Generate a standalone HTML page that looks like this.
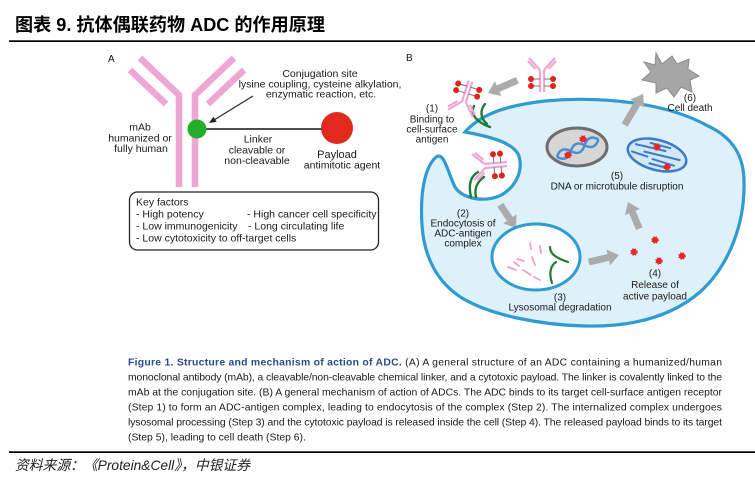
<!DOCTYPE html>
<html><head><meta charset="utf-8"><style>
html,body{margin:0;padding:0;background:#fff}
body{width:755px;height:488px;overflow:hidden;position:relative}
svg{position:absolute;left:0;top:0}
text{font-family:"Liberation Sans","Noto Sans CJK SC",sans-serif}
</style></head><body>
<svg width="755" height="488" viewBox="0 0 755 488" xmlns="http://www.w3.org/2000/svg">
<rect width="755" height="488" fill="#fff"/>
<!-- title -->
<text x="15" y="31" font-size="18" font-weight="bold" fill="#000" textLength="310" lengthAdjust="spacingAndGlyphs">图表 9. 抗体偶联药物 ADC 的作用原理</text>
<rect x="9" y="40.3" width="746" height="1.7" fill="#000"/>

<!-- ===== Panel A ===== -->
<text x="108" y="62" font-size="10" fill="#111">A</text>
<g stroke="#efa6d2" stroke-width="6.5" fill="none">
<polyline points="140,58 179,95 179,187"/>
<polyline points="234,58 195,95 195,187"/>
<line x1="130" y1="70" x2="166" y2="104"/>
<line x1="244" y1="70" x2="208" y2="104"/>
</g>
<line x1="205" y1="129" x2="323" y2="129" stroke="#111" stroke-width="1.5"/>
<circle cx="197" cy="129" r="9.5" fill="#22ad2a"/>
<circle cx="337" cy="128" r="16" fill="#e12a1c"/>
<line x1="253" y1="96" x2="214" y2="120" stroke="#222" stroke-width="1.1"/>
<polygon points="209,123 216.6,121.9 213.4,116.7" fill="#222"/>

<g font-size="10.5" fill="#1a1a1a" text-anchor="middle">
<text x="320" y="77">Conjugation site</text>
<text x="320" y="87.5">lysine coupling, cysteine alkylation,</text>
<text x="321" y="97.5">enzymatic reaction, etc.</text>
<text x="140" y="130.5">mAb</text>
<text x="140" y="141.5">humanized or</text>
<text x="141" y="152">fully human</text>
<text x="258" y="142.5">Linker</text>
<text x="257" y="153.5">cleavable or</text>
<text x="257" y="164">non-cleavable</text>
<text x="337" y="158" font-size="11">Payload</text>
<text x="342" y="168.5">antimitotic agent</text>
</g>
<rect x="129.5" y="192" width="249" height="58" rx="8" fill="none" stroke="#222" stroke-width="1.3"/>
<g font-size="10.5" fill="#1a1a1a">
<text x="136" y="205.5">Key factors</text>
<text x="136" y="217.5">- High potency</text>
<text x="247" y="217.5">- High cancer cell specificity</text>
<text x="136" y="229.5">- Low immunogenicity</text>
<text x="248" y="229.5">- Long circulating life</text>
<text x="136" y="241.5">- Low cytotoxicity to off-target cells</text>
</g>

<!-- ===== Panel B ===== -->
<text x="406" y="61" font-size="10" fill="#111">B</text>

<!-- cell -->
<path d="M436,157 C444,151 448,173 455,187 C463,200 488,203 503,194 C517,185 523,170 519,156 C514,143 492,137 465,132 C478,117 500,106 545,101 C600,96 665,102 708,126 C732,137 744,155 744,182 C745,222 730,265 700,292 C670,318 630,327 585,326 C540,325 490,315 462,298 C438,283 424,258 422,225 C420,195 424,168 436,157 Z" fill="#def0f9" stroke="#2e9bd2" stroke-width="3.2"/>

<!-- antigens -->
<g stroke="#1d7b34" stroke-width="2.4" fill="none" stroke-linecap="round">
<path d="M474,106 C470,114 476,122 490,127"/>
<path d="M485,104 C480,110 480,118 487,124"/>
<path d="M478,172 C471,176 468,184 471,197"/>
<path d="M484,177 C477,182 474,189 476,197"/>
</g>

<!-- ADCs -->
<g transform="translate(542,70) rotate(90)">
<g stroke="#efa6d2" stroke-width="2.2" fill="none">
<path d="M0,-2 L22,-2 M0,2 L22,2 M0,-2 L-12,-13 M0,2 L-12,13 M-1,-6.5 L-9,-14 M-1,6.5 L-9,14"/>
</g>
<g stroke="#777" stroke-width="1"><path d="M9,-2 L9,-11 M16,-2 L16,-11 M9,2 L9,11 M16,2 L16,11"/></g>
<g fill="#e2231c"><circle cx="9" cy="-11" r="3"/><circle cx="16" cy="-11" r="3"/><circle cx="9" cy="11" r="3"/><circle cx="16" cy="11" r="3"/></g>
</g>
<g transform="translate(464,102) rotate(-73)">
<g stroke="#efa6d2" stroke-width="2.2" fill="none">
<path d="M0,-2 L22,-2 M0,2 L22,2 M0,-2 L-12,-13 M0,2 L-12,13 M-1,-6.5 L-9,-14 M-1,6.5 L-9,14"/>
</g>
<g stroke="#777" stroke-width="1"><path d="M9,-2 L9,-11 M16,-2 L16,-11 M9,2 L9,11 M16,2 L16,11"/></g>
<g fill="#e2231c"><circle cx="9" cy="-11" r="3"/><circle cx="16" cy="-11" r="3"/><circle cx="9" cy="11" r="3"/><circle cx="16" cy="11" r="3"/></g>
</g>
<g transform="translate(485,166) rotate(-5)">
<g stroke="#efa6d2" stroke-width="2.2" fill="none">
<path d="M0,-2 L22,-2 M0,2 L22,2 M0,-2 L-12,-13 M0,2 L-12,13 M-1,-6.5 L-9,-14 M-1,6.5 L-9,14"/>
</g>
<g stroke="#777" stroke-width="1"><path d="M9,-2 L9,-11 M16,-2 L16,-11 M9,2 L9,11 M16,2 L16,11"/></g>
<g fill="#e2231c"><circle cx="9" cy="-11" r="3"/><circle cx="16" cy="-11" r="3"/><circle cx="9" cy="11" r="3"/><circle cx="16" cy="11" r="3"/></g>
</g>

<!-- gray arrows -->
<g fill="#ababab">
<polygon transform="translate(488,93) rotate(156.6)" points="0,0 -11,-8 -11,-3.5 -32,-3.5 -32,3.5 -11,3.5 -11,8"/>
<polygon transform="translate(516,228) rotate(55.8)" points="0,0 -11,-8 -11,-3.5 -28,-3.5 -28,3.5 -11,3.5 -11,8"/>
<polygon transform="translate(619,255) rotate(-13)" points="0,0 -11,-8 -11,-3.5 -31,-3.5 -31,3.5 -11,3.5 -11,8"/>
<polygon transform="translate(628,202) rotate(-113)" points="0,0 -11,-8 -11,-3.5 -29,-3.5 -29,3.5 -11,3.5 -11,8"/>
<polygon transform="translate(643,94) rotate(-59.3)" points="0,0 -11,-8 -11,-3.5 -36,-3.5 -36,3.5 -11,3.5 -11,8"/>
</g>

<!-- nucleus -->
<ellipse cx="577" cy="147" rx="30" ry="19" fill="#d6d6d6" stroke="#6e6e6e" stroke-width="3"/>
<g transform="translate(557,157) rotate(-23)" stroke="#4a8fd2" stroke-width="2.5" fill="none">
<path d="M0,0 C5,-6 10,-6 15,0 S25,6 30,0 S40,-6 45,0"/>
<path d="M0,0 C5,6 10,6 15,0 S25,-6 30,0 S40,6 45,0"/>
</g>
<g fill="#e8262a" stroke="#e8262a" stroke-width="1.6" stroke-dasharray="1.2 1.2">
<circle cx="583" cy="139" r="3"/><circle cx="568" cy="155" r="3"/>
</g>

<!-- microtubule -->
<g transform="translate(657,155) rotate(15)">
<ellipse cx="0" cy="0" rx="30" ry="15" fill="#d3e7f7" stroke="#3b7cc9" stroke-width="2.5"/>
<g stroke="#3b7cc9" stroke-width="2" fill="none">
<path d="M-24,-5 L8,-6 M-14,0 L24,-1 M-4,5 L20,6 M-26,3 L-8,4 M-10,-10 L12,-10 M-6,10 L14,10"/>
</g>
</g>
<g fill="#e8262a" stroke="#e8262a" stroke-width="1.6" stroke-dasharray="1.2 1.2">
<circle cx="657" cy="147" r="3"/><circle cx="667" cy="167" r="3"/>
</g>

<!-- cell death star -->
<polygon points="656,53 662,64 672,56 677,64 689,59 688,69 699,76 690,80 692,92 681,87 674,97 667,88 656,93 656,83 642,80 651,72 644,62 655,65" fill="#a6a6a6" stroke="#8a8a8a" stroke-width="1"/>

<!-- lysosome -->
<ellipse cx="536" cy="257" rx="44" ry="33" fill="#fff" stroke="#2e9bd2" stroke-width="3"/>
<g stroke="#e9a3cd" stroke-width="1.8" fill="none" stroke-linecap="round">
<path d="M530,243 L531,249"/><path d="M540,246 L541,253"/><path d="M517,259 L524,261"/>
<path d="M508,267 L516,270"/><path d="M532,257 L535,265"/><path d="M523,270 L531,275"/>
<path d="M534,277 L540,280"/><path d="M514,262 L519,266"/>
</g>
<g stroke="#1d7b34" stroke-width="2.2" fill="none" stroke-linecap="round">
<path d="M550,247 C550,254 556,258 568,262"/>
<path d="M556,262 C550,266 549,274 552,283"/>
</g>

<!-- released payload -->
<g fill="#e8262a" stroke="#e8262a" stroke-width="1.6" stroke-dasharray="1.2 1.2">
<circle cx="655" cy="240" r="3"/><circle cx="634" cy="252" r="3"/><circle cx="659" cy="261" r="3"/><circle cx="682" cy="256" r="3"/>
</g>

<!-- labels B -->
<g font-size="10" fill="#1a1a1a" text-anchor="middle">
<text x="432" y="111.5">(1)</text>
<text x="432" y="122.5">Binding to</text>
<text x="432" y="132.5">cell-surface</text>
<text x="432" y="142.5">antigen</text>
<text x="463" y="216.5">(2)</text>
<text x="463" y="226.5">Endocytosis of</text>
<text x="463" y="236.5">ADC-antigen</text>
<text x="463" y="246.5">complex</text>
<text x="560" y="300.5">(3)</text>
<text x="560" y="310.5">Lysosomal degradation</text>
<text x="655" y="276.5">(4)</text>
<text x="655" y="288">Release of</text>
<text x="655" y="299.5">active payload</text>
<text x="617" y="179">(5)</text>
<text x="617" y="189.5">DNA or microtubule disruption</text>
<text x="690" y="101">(6)</text>
<text x="690" y="111">Cell death</text>
</g>

<!-- caption -->
<g font-size="10.4" fill="#1a1a1a">
<text x="128" y="365.5" textLength="594" lengthAdjust="spacing"><tspan font-weight="bold" fill="#2b4a8b">Figure 1. Structure and mechanism of action of ADC.</tspan> (A) A general structure of an ADC containing a humanized/human</text>
<text x="128" y="380.5" textLength="594" lengthAdjust="spacing">monoclonal antibody (mAb), a cleavable/non-cleavable chemical linker, and a cytotoxic payload. The linker is covalently linked to the</text>
<text x="128" y="395.5" textLength="594" lengthAdjust="spacing">mAb at the conjugation site. (B) A general mechanism of action of ADCs. The ADC binds to its target cell-surface antigen receptor</text>
<text x="128" y="410.5" textLength="594" lengthAdjust="spacing">(Step 1) to form an ADC-antigen complex, leading to endocytosis of the complex (Step 2). The internalized complex undergoes</text>
<text x="128" y="425.5" textLength="594" lengthAdjust="spacing">lysosomal processing (Step 3) and the cytotoxic payload is released inside the cell (Step 4). The released payload binds to its target</text>
<text x="128" y="440.5">(Step 5), leading to cell death (Step 6).</text>
</g>

<rect x="9" y="451.3" width="746" height="1.7" fill="#000"/>
<text x="15" y="470" font-size="14" font-style="italic" fill="#222" textLength="235" lengthAdjust="spacingAndGlyphs">资料来源：《Protein&amp;Cell》，中银证券</text>
</svg>
</body></html>
